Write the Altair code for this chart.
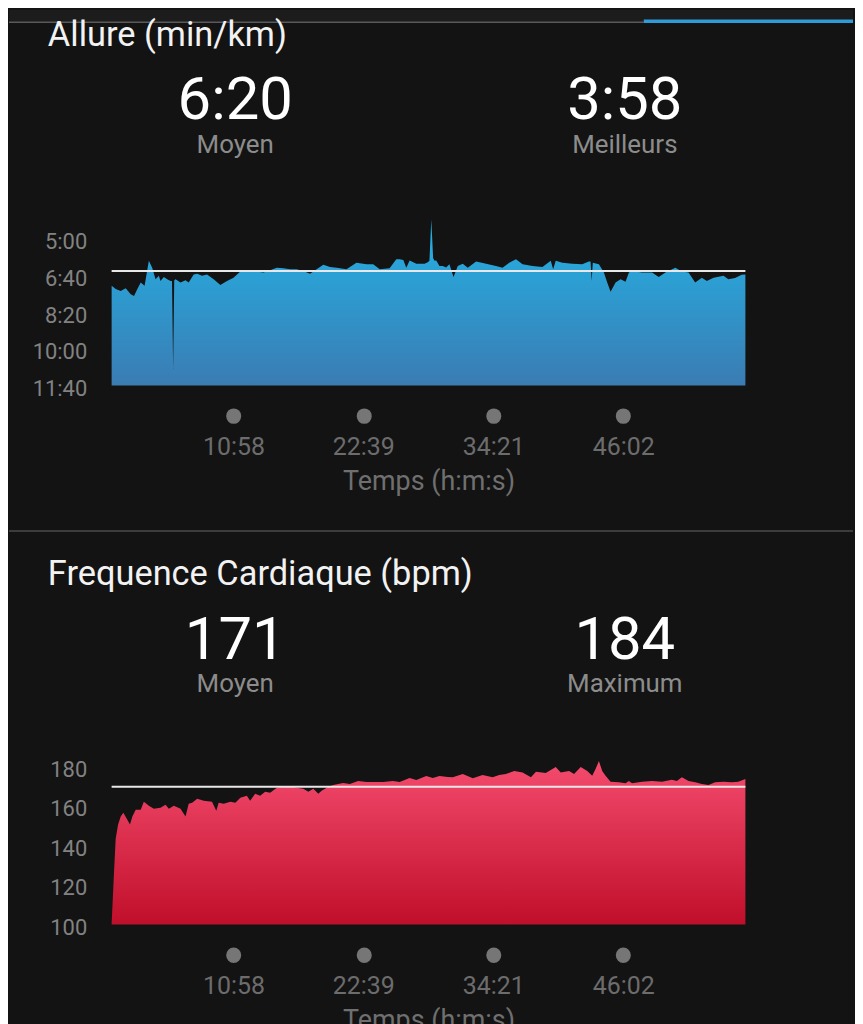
import altair as alt
import pandas as pd

# ---------------- data ----------------
# elapsed time in seconds, pace in seconds per km
pace_t = [0, 22, 49, 76, 103, 121, 139, 157, 178, 201, 219, 237, 255, 264, 282, 300, 318,
          326, 332, 338, 345, 372, 399, 416, 443, 462, 488, 515, 551, 587, 623, 658, 695,
          730, 766, 820, 856, 892, 927, 964, 999, 1035, 1071, 1107, 1143, 1179, 1215, 1268,
          1322, 1376, 1412, 1448, 1501, 1537, 1555, 1575, 1591, 1609, 1645, 1690, 1707, 1716,
          1726, 1736, 1744, 1753, 1770, 1788, 1806, 1824, 1846, 1869, 1896, 1923, 1968, 2022,
          2075, 2111, 2147, 2183, 2219, 2272, 2326, 2371, 2384, 2398, 2434, 2488, 2541, 2577,
          2586, 2592, 2598, 2631, 2658, 2676, 2694, 2721, 2748, 2775, 2793, 2810, 2864, 2918,
          2954, 2990, 3044, 3079, 3115, 3151, 3187, 3214, 3250, 3304, 3330, 3366, 3402, 3422]
pace_s = [420, 429, 434, 427, 443, 448, 429, 411, 420, 352, 371, 402, 393, 407, 396, 402, 407,
          407, 647, 405, 402, 411, 405, 411, 389, 387, 393, 389, 402, 418, 407, 398, 381,
          380, 380, 384, 378, 371, 372, 375, 375, 380, 387, 375, 363, 369, 371, 375,
          357, 361, 361, 375, 372, 348, 348, 350, 371, 351, 360, 360, 356, 352,
          239, 345, 352, 351, 366, 366, 370, 361, 396, 366, 360, 371, 354, 360,
          366, 371, 357, 348, 361, 366, 369, 352, 375, 352, 357, 360, 361, 354,
          354, 407, 357, 361, 384, 411, 436, 411, 402, 409, 384, 380, 384, 384,
          396, 384, 371, 381, 384, 411, 398, 407, 398, 393, 402, 399, 390, 389]

hr_t = [0, 13, 22, 35, 49, 63, 81, 99, 112, 130, 157, 174, 201, 228, 264, 291, 309, 336, 372,
        399, 416, 435, 462, 497, 542, 565, 578, 605, 641, 668, 695, 730, 748, 775, 802, 829,
        856, 892, 927, 964, 999, 1035, 1062, 1089, 1116, 1134, 1170, 1197, 1250, 1286, 1331,
        1376, 1421, 1466, 1519, 1555, 1609, 1645, 1699, 1734, 1770, 1815, 1842, 1896, 1950,
        2003, 2057, 2093, 2129, 2174, 2219, 2264, 2291, 2344, 2398, 2425, 2470, 2497, 2533,
        2568, 2595, 2613, 2631, 2649, 2667, 2694, 2739, 2775, 2793, 2810, 2864, 2918, 2972,
        3025, 3052, 3079, 3115, 3151, 3187, 3223, 3259, 3304, 3348, 3384, 3422]
hr_bpm = [102, 128, 145, 152, 156, 158, 155, 152, 156, 159.5, 159.5, 163.5, 161.5, 160, 160.5,
          162, 160, 161.5, 160, 156, 162.5, 163, 165, 164, 163.5, 159, 163, 162.5, 163.5, 163,
          165.5, 166.5, 164, 167.5, 166.5, 168.5, 168, 170.5, 171, 171.5, 170.5, 170, 168.5,
          170, 167.5, 169, 171, 172, 173, 172.5, 174, 173.5, 173.5, 173.5, 174, 173.5, 175.5,
          174.5, 176.5, 175.5, 176.5, 176, 175.8, 177.5, 175.3, 177, 175.8, 177, 177.5, 179,
          178.3, 175.8, 178.6, 178, 181, 178.3, 179, 177.5, 181, 179, 176.6, 180, 184, 179,
          176.6, 173.6, 173.3, 172.8, 174, 172.8, 173.6, 174, 173.6, 174.6, 174, 175.8, 174,
          173.3, 172.5, 172, 173.3, 173.6, 173.3, 173.6, 175]

time_ticks = [658, 1359, 2061, 2762]          # 10:58, 22:39, 34:21, 46:02
pace_ticks = [300, 400, 500, 600, 700]        # 5:00 ... 11:40
hr_ticks = [100, 120, 140, 160, 180]

pace_avg, pace_best = 380, 238                # 6:20 / 3:58
hr_avg, hr_max = 171, 184

pace_header = ["6:20", "Moyen", "3:58", "Meilleurs"]
hr_header = ["171", "Moyen", "184", "Maximum"]

T_END = 3422
PACE_DOMAIN = [230, 700]      # fastest at top, slowest at bottom
PACE_FLOOR = 692              # where the filled area stops
HR_DOMAIN = [188, 100]        # highest at top, lowest at bottom
HR_FLOOR = 101.5

# ---------------- style ----------------
FONT = "Roboto"
BG = "#131313"
W, H = 636, 377
MMSS = "floor(datum.value/60) + ':' + (datum.value % 60 < 10 ? '0' : '') + (datum.value % 60)"

pace_df = pd.DataFrame({"t": pace_t, "v": pace_s})
hr_df = pd.DataFrame({"t": hr_t, "v": hr_bpm})
one = pd.DataFrame({"k": [0]})


def x_enc():
    return alt.X(
        "t:Q",
        scale=alt.Scale(domain=[0, T_END], nice=False, zero=False),
        axis=alt.Axis(
            values=time_ticks, labelExpr=MMSS, title="Temps (h:m:s)",
            domain=False, grid=False, ticks=True, tickCap="round", tickWidth=15,
            tickSize=0.5, tickColor="#767676", offset=30, labelPadding=18.5,
            labelFont=FONT, labelFontSize=25, labelColor="#6c6c6c", labelFlush=False,
            labelOverlap=False, titleFont=FONT, titleFontSize=27,
            titleFontWeight="normal", titleColor="#6f6f6f", titlePadding=9,
        ),
    )


def y_axis(values, expr=None):
    kw = dict(values=values, title=None, domain=False, grid=False, ticks=False,
              tickSize=0, labelPadding=25, labelFont=FONT, labelFontSize=22,
              labelColor="#828282", labelOverlap=False, labelFlush=False)
    if expr:
        kw["labelExpr"] = expr
    return alt.Axis(**kw)


def text(s, x, y, size, color, align="center"):
    return alt.Chart(one).mark_text(
        text=s, font=FONT, fontSize=size, color=color, align=align,
        baseline="alphabetic").encode(x=alt.value(x), y=alt.value(y))


def panel(df, domain, floor, rng, ticks, expr, grad, avg, title, header, top_bar):
    yscale = alt.Scale(domain=domain, range=rng, nice=False, zero=False)
    ax = y_axis(ticks, expr)
    area = alt.Chart(df).mark_area(color=grad, interpolate="linear").encode(
        x=x_enc(),
        y=alt.Y("v:Q", scale=yscale, axis=ax),
        y2=alt.Y2Datum(floor),
    )
    avg_rule = alt.Chart(pd.DataFrame({"v": [avg]})).mark_rule(
        color="#e8e8e8", strokeWidth=2).encode(
        y=alt.Y("v:Q", scale=yscale, axis=ax)
    )
    layers = []
    if top_bar:
        layers += [
            alt.Chart(one).mark_rect(color="#1c1c1c").encode(
                x=alt.value(-103), x2=alt.value(744), y=alt.value(0), y2=alt.value(12)),
            alt.Chart(one).mark_rule(color="#5a5a5a", strokeWidth=1.5).encode(
                x=alt.value(-103), x2=alt.value(534), y=alt.value(12.5)),
            alt.Chart(one).mark_rule(color="#2f9bd8", strokeWidth=3.5).encode(
                x=alt.value(534), x2=alt.value(744), y=alt.value(11.5)),
        ]
    else:
        layers += [
            alt.Chart(one).mark_rule(color="#3c3c3c", strokeWidth=2).encode(
                x=alt.value(-103), x2=alt.value(744), y=alt.value(-18)),
        ]
    layers += [
        area,
        avg_rule,
        text(title, -64, 36, 34.5, "#f2f2f2", align="left"),
        text(header[0], 124, 110, 60, "#ffffff"),
        text(header[1], 124, 144, 26, "#8c8c8c"),
        text(header[2], 515, 110, 60, "#ffffff"),
        text(header[3], 515, 144, 26, "#8c8c8c"),
    ]
    return alt.layer(*layers).properties(width=W, height=H)


pace_grad = alt.Gradient(
    gradient="linear", x1=0, x2=0, y1=0, y2=1,
    stops=[alt.GradientStop(color="#24b2e5", offset=0),
           alt.GradientStop(color="#3a7cb3", offset=1)])
hr_grad = alt.Gradient(
    gradient="linear", x1=0, x2=0, y1=0, y2=1,
    stops=[alt.GradientStop(color="#f44b6e", offset=0),
           alt.GradientStop(color="#c00f2a", offset=1)])

p1 = panel(pace_df, PACE_DOMAIN, PACE_FLOOR, [207, 380], pace_ticks, MMSS, pace_grad,
           pace_avg, "Allure (min/km)", pace_header, True)
p2 = panel(hr_df, HR_DOMAIN, HR_FLOOR, [205, 380], hr_ticks, None, hr_grad,
           hr_avg, "Frequence Cardiaque (bpm)", hr_header, False)

chart = (
    alt.vconcat(p1, p2, spacing=164, bounds="flush")
    .properties(padding=0, background=BG)
    .configure(font=FONT)
    .configure_view(stroke="transparent", strokeWidth=0)
)

chart.save("out.html", embed_options={"renderer": "svg", "actions": False})
